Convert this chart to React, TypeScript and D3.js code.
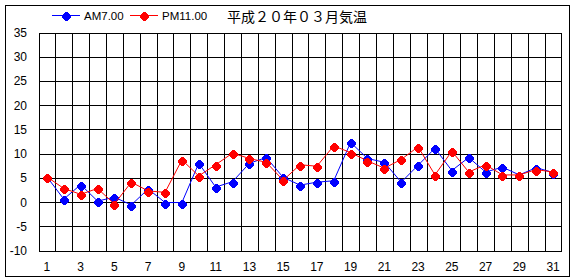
import React from "react";
import * as d3 from "d3";

const days = d3.range(1, 32).map(String);
const amValues = [5.2, 0.6, 3.6, 0.2, 1.0, -0.6, 2.7, -0.1, -0.1, 8.0, 3.1, 4.2, 8.0, 9.2, 5.1, 3.5, 4.1, 4.4, 12.3, 9.0, 8.2, 4.1, 7.6, 11.1, 6.5, 9.2, 6.2, 7.2, 5.6, 7.1, 6.1];
const pmValues = [5.2, 2.8, 1.6, 2.8, -0.4, 4.1, 2.3, 2.0, 8.7, 5.4, 7.7, 10.1, 9.0, 8.2, 4.5, 7.7, 7.4, 11.6, 10.2, 8.5, 7.0, 8.8, 11.4, 5.6, 10.5, 6.2, 7.7, 5.6, 5.6, 6.7, 6.2];
const yTicks = [35, 30, 25, 20, 15, 10, 5, 0, -5, -10];
const seriesNames = ["AM7.00", "PM11.00"];
const seriesColors = ["#0000ff", "#ff0000"];
const title = "平成２０年０３月気温";

export default function App() {
  const left = 38.5, right = 561.5, top = 32.5, bottom = 250.5;
  const x = d3.scaleBand().domain(days).range([left, right]).padding(0);
  const y = d3.scaleLinear().domain([-10, 35]).range([bottom, top]);
  const cx = (d: string) => (x(d) as number) + x.bandwidth() / 2;
  const line = d3.line<number>().x((_, i) => cx(days[i])).y((v) => y(v));
  const series = [amValues, pmValues];
  const font = "'Liberation Sans', Arial, sans-serif";

  const marker = (px: number, py: number, color: string, key: string) => (
    <path
      key={key}
      d={`M${px - 1.5},${py - 3.5}h3v1h1v1h1v1h1v3h-1v1h-1v1h-1v1h-3v-1h-1v-1h-1v-1h-1v-3h1v-1h1v-1h1z`}
      fill={color}
    />
  );

  return (
    <svg width={580} height={280} style={{ position: "absolute", left: 0, top: 0 }} shapeRendering="crispEdges">
      <rect x={0} y={0} width={580} height={280} fill="#fff" />
      <rect x={5.5} y={5.5} width={564} height={271} fill="none" stroke="#000" strokeWidth={1} />
      {/* horizontal grid */}
      {yTicks.map((t) => (
        <line key={"h" + t} x1={left} x2={right} y1={Math.round(y(t)) + 0.5} y2={Math.round(y(t)) + 0.5} stroke="#000" strokeWidth={1} />
      ))}
      {/* vertical grid */}
      {days.map((d) => (
        <line key={"v" + d} x1={Math.round(x(d) as number) + 0.5} x2={Math.round(x(d) as number) + 0.5} y1={top} y2={bottom} stroke="#000" strokeWidth={1} />
      ))}
      <line x1={right} x2={right} y1={top} y2={bottom} stroke="#000" strokeWidth={1} />
      {/* y labels */}
      {yTicks.map((t) => (
        <text key={"yl" + t} x={27} y={y(t) + 4.5} textAnchor="end" fontFamily={font} fontSize={12} fill="#000">{t}</text>
      ))}
      {/* x labels */}
      {days.filter((_, i) => i % 2 === 0).map((d) => (
        <text key={"xl" + d} x={cx(d)} y={271} textAnchor="middle" fontFamily={font} fontSize={12} fill="#000">{d}</text>
      ))}
      {/* series */}
      {series.map((vals, si) => (
        <g key={"s" + si}>
          <path d={line(vals) || ""} fill="none" stroke={seriesColors[si]} strokeWidth={1} shapeRendering="auto" />
          {vals.map((v, i) => marker(Math.round(cx(days[i])), Math.round(y(v)), seriesColors[si], `m${si}-${i}`))}
        </g>
      ))}
      {/* legend */}
      {seriesNames.map((n, i) => {
        const lx = 52 + i * 78;
        return (
          <g key={"lg" + i}>
            <line x1={lx} x2={lx + 28} y1={15.5} y2={15.5} stroke={seriesColors[i]} strokeWidth={1} />
            {marker(lx + 14, 15, seriesColors[i], "lm" + i)}
            <text x={lx + 32} y={20} fontFamily={font} fontSize={11.5} fill="#000">{n}</text>
          </g>
        );
      })}
      <text x={227} y={22} fontFamily="'Noto Sans CJK JP', sans-serif" fontSize={14} fill="#000">{title}</text>
    </svg>
  );
}
